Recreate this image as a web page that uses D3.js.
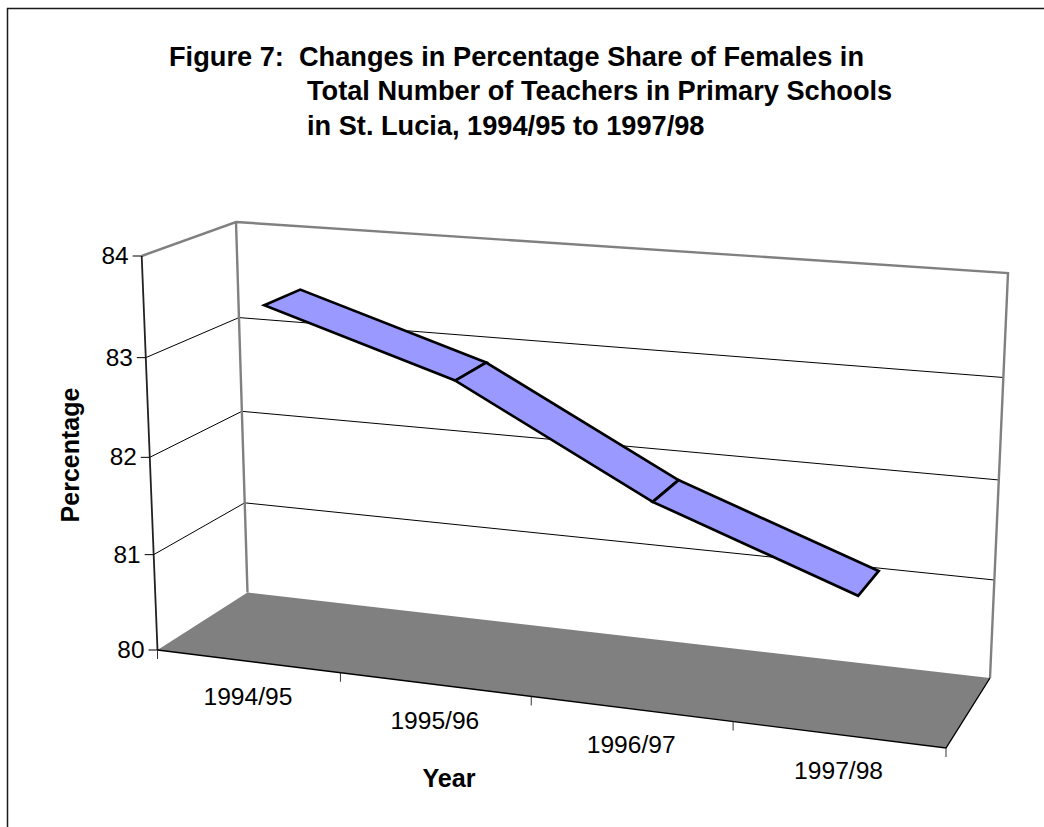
<!DOCTYPE html>
<html>
<head>
<meta charset="utf-8">
<script src="https://cdn.jsdelivr.net/npm/d3@7"></script>
<style>
html,body{margin:0;padding:0;background:#fff;}
svg{display:block;}
text{font-family:"Liberation Sans",Arial,sans-serif;fill:#000;}
</style>
</head>
<body>
<svg id="chart" width="1044" height="827"></svg>
<script>
const categories = ["1994/95","1995/96","1996/97","1997/98"];
const values = [83.48, 82.89, 81.88, 81.17];
const valueTicks = [80,81,82,83,84];
const titleLines = [
  "Figure 7:  Changes in Percentage Share of Females in",
  "Total Number of Teachers in Primary Schools",
  "in St. Lucia, 1994/95 to 1997/98"
];
const xTitle = "Year";
const yTitle = "Percentage";

// Projected box: [x,y] of the eight corners, keyed front/back, left/right, bottom/top
const box = {
  flb:[157.5,650], frb:[946,748], blb:[247.5,592.5], brb:[990,678],
  flt:[141.7,256], frt:[965,315], blt:[236,222],   brt:[1008,273]
};
// Foreshortening of the two data axes
const uScale = d3.scaleLinear().domain([0,1,2,3,4]).range([0,.232,.474,.73,1]);
const wScale = d3.scaleLinear().domain(valueTicks).range([0,.242,.489,.742,1]);
const depthFront = .29, depthBack = .70;

const lerp = (a,b,t)=>[a[0]+(b[0]-a[0])*t, a[1]+(b[1]-a[1])*t];
function project(slot, depth, value){
  const u = uScale(slot), w = wScale(value);
  const fb = lerp(box.flb,box.frb,u), ft = lerp(box.flt,box.frt,u);
  const bb = lerp(box.blb,box.brb,u), bt = lerp(box.blt,box.brt,u);
  return lerp(lerp(fb,ft,w), lerp(bb,bt,w), depth);
}
const line = d3.line();
const svg = d3.select("#chart");

// outer frame: left and top only
svg.append("path").attr("d","M7.5,827V8.5H1044").attr("fill","none").attr("stroke","#1a1a1a").attr("stroke-width",1.5);

// floor
svg.append("path").attr("d",line([project(0,0,80),project(4,0,80),project(4,1,80),project(0,1,80)])+"Z").attr("fill","#808080");

// gridlines on side and back walls
svg.append("g").selectAll("path").data(valueTicks.slice(1,-1)).join("path")
  .attr("d",v=>line([project(0,0,v),project(0,1,v),project(4,1,v)]))
  .attr("fill","none").attr("stroke","#000").attr("stroke-width",1);

// walls outline
svg.append("path").attr("d",line([project(0,0,84),project(0,1,84),project(4,1,84),project(4,1,80)]))
  .attr("fill","none").attr("stroke","#808080").attr("stroke-width",2.4);
svg.append("path").attr("d",line([project(0,1,84),project(0,1,80)]))
  .attr("fill","none").attr("stroke","#808080").attr("stroke-width",2.4);

// ribbon
svg.append("g").selectAll("path").data(d3.pairs(values.map((v,i)=>({v,i})))).join("path")
  .attr("d",([a,b])=>line([
    project(a.i+.5,depthFront,a.v),project(a.i+.5,depthBack,a.v),
    project(b.i+.5,depthBack,b.v),project(b.i+.5,depthFront,b.v)])+"Z")
  .attr("fill","#9999ff").attr("stroke","#000").attr("stroke-width",2.7).attr("stroke-linejoin","miter");

// axes
svg.append("path").attr("d",line([project(0,0,84),project(0,0,80)]))
  .attr("fill","none").attr("stroke","#222").attr("stroke-width",1.8);
svg.append("path").attr("d",line([project(0,0,80),project(4,0,80),project(4,1,80)]))
  .attr("fill","none").attr("stroke","#000").attr("stroke-width",1.4);

const yTicks = svg.append("g");
yTicks.selectAll("path").data(valueTicks).join("path")
  .attr("d",v=>{const p=project(0,0,v);return line([[p[0]-9,p[1]],[p[0],p[1]]]);})
  .attr("stroke","#000").attr("stroke-width",1);
yTicks.selectAll("text").data(valueTicks).join("text")
  .attr("x",v=>project(0,0,v)[0]-13).attr("y",v=>project(0,0,v)[1]+8)
  .attr("text-anchor","end").attr("font-size",24.4).text(d=>d);

svg.append("g").selectAll("path").data(d3.range(5)).join("path")
  .attr("d",i=>{const p=project(i,0,80);return line([[p[0],p[1]],[p[0],p[1]+9]]);})
  .attr("stroke","#333").attr("stroke-width",1);

svg.append("g").selectAll("text").data(categories).join("text")
  .attr("x",(d,i)=>project(i+.5,0,80)[0]-1).attr("y",(d,i)=>project(i+.5,0,80)[1]+44)
  .attr("text-anchor","middle").attr("font-size",24.6).text(d=>d);

// titles
const titleY = [66,100,135];
svg.append("g").selectAll("text").data(titleLines).join("text")
  .attr("x",(d,i)=>i===0?169:307).attr("y",(d,i)=>titleY[i])
  .attr("font-size",27.2).attr("font-weight","bold").style("white-space","pre").text(d=>d);
svg.append("text").attr("x",449).attr("y",787).attr("text-anchor","middle")
  .attr("font-size",25.2).attr("font-weight","bold").text(xTitle);
svg.append("text").attr("transform","translate(79,455) rotate(-90)").attr("text-anchor","middle")
  .attr("font-size",25).attr("font-weight","bold").text(yTitle);
</script>
</body>
</html>
